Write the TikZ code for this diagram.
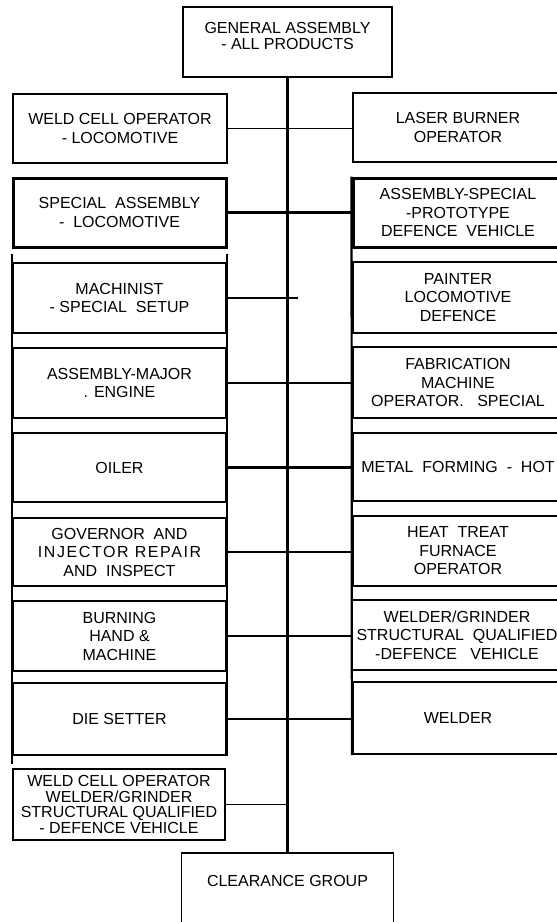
\documentclass[tikz,border=0pt]{standalone}
\usepackage{fontspec}
\setmainfont{Liberation Sans}
\begin{document}
\begin{tikzpicture}[x=1pt,y=-1pt,
  every node/.style={font=\fontsize{16}{18.5}\selectfont, align=center, inner sep=0pt},
  thinbox/.style 2 args={draw, line width=1.5pt, minimum width=#1pt, minimum height=#2pt},
  cell/.style 2 args={draw, line width=2.2pt, minimum width=#1pt, minimum height=#2pt},
  thickbox/.style 2 args={draw, line width=3pt, minimum width=#1pt, minimum height=#2pt},
  conn/.style={line width=2.3pt},
  thinconn/.style={line width=1.8pt},
  trunk/.style={line width=2.1pt},
  col/.style={line width=2.2pt}]
\useasboundingbox (0,0) rectangle (557,922);
\fill[white] (0,0) rectangle (557,922);
% boxes
\node[thinbox={209}{70}] (top) at (287.5,42) {};
\node[font=\fontsize{16}{16.5}\selectfont] (toptxt) at (287.5,36) {GENERAL ASSEMBLY\\- ALL PRODUCTS};
\node[thinbox={214}{69}] (weld1) at (120,128.5) {WELD CELL OPERATOR\\- LOCOMOTIVE};
\node[thinbox={210}{69}] (laser) at (458,127.5) {LASER BURNER\\OPERATOR};
\node[thickbox={213}{69}] (spa) at (119.5,212.5) {SPECIAL\ \ ASSEMBLY\\-\ \ LOCOMOTIVE};
\node[thickbox={210}{69}] (aspc) at (458,212.5) {ASSEMBLY-SPECIAL\\-PROTOTYPE\\DEFENCE\ \ VEHICLE};
\node[cell={213}{70}] (mach) at (119.5,298) {MACHINIST\\- SPECIAL\ \ SETUP};
\node[cell={210}{71}] (paint) at (458,297.5) {PAINTER\\LOCOMOTIVE\\DEFENCE};
\node[cell={213}{70}] (amaj) at (119.5,383) {ASSEMBLY-MAJOR\\. ENGINE};
\node[cell={210}{71}] (fab) at (458,382.5) {FABRICATION\\MACHINE\\OPERATOR.\ \ \ SPECIAL};
\node[cell={213}{69}] (oiler) at (119.5,467.5) {OILER};
\node[cell={210}{68}] (metal) at (458,467) {METAL\ \ FORMING\ \ -\ \ HOT};
\node[cell={213}{68}] (gov) at (119.5,552) {GOVERNOR\ \ AND\\{\addfontfeature{LetterSpace=10}INJECTOR REPAIR}\\AND\ \ INSPECT};
\node[cell={210}{70}] (heat) at (458,551) {HEAT\ \ TREAT\\FURNACE\\OPERATOR};
\node[cell={213}{70}] (burn) at (119.5,636) {BURNING\\HAND \&\\MACHINE};
\node[cell={210}{70}] (wg) at (457,635) {WELDER/GRINDER\\STRUCTURAL\ \ QUALIFIED\\-DEFENCE\ \ \ VEHICLE};
\node[cell={213}{72}] (die) at (119.5,719) {DIE SETTER};
\node[cell={210}{72}] (welder) at (458,718) {WELDER};
\node[thinbox={212}{71}, font=\fontsize{16}{15.5}\selectfont] (weld2) at (119,804.5) {WELD CELL OPERATOR\\WELDER/GRINDER\\STRUCTURAL QUALIFIED\\- DEFENCE VEHICLE};
\node[thinbox={212}{90}] (clear) at (287.5,898) {};
\node (cleartxt) at (287.5,881) {CLEARANCE GROUP};
% column edges
\draw[col] ([yshift=8pt]mach.north west) -- ([yshift=-8pt]die.south west);
\draw[col] ([yshift=8pt]mach.north east) -- (die.south east);
\draw[col] (aspc.north west) -- (welder.south west);
% connectors
\draw[trunk] (top.south) -- (clear.north);
\draw[thinconn] (weld1.east) -- (weld1.east -| laser.west);
\draw[conn] (spa.east) -- (spa.east -| aspc.west);
\coordinate (stub) at (298,298);
\draw[conn] (mach.east) -- (stub);
\draw[conn] (amaj.east) -- (amaj.east -| fab.west);
\draw[conn] (oiler.east) -- (oiler.east -| metal.west);
\draw[conn] (gov.east) -- (gov.east -| heat.west);
\draw[conn] (burn.east) -- (burn.east -| wg.west);
\draw[conn] (die.east) -- (die.east -| welder.west);
\draw[thinconn] (weld2.east) -- (weld2.east -| top.south);
\end{tikzpicture}
\end{document}
